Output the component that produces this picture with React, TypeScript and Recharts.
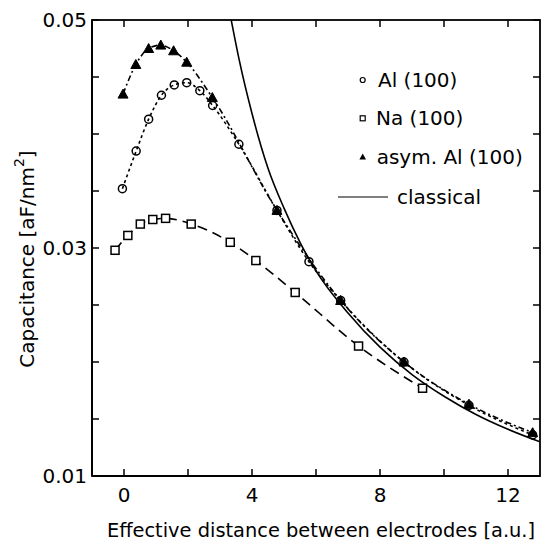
import React from 'react';
import { LineChart, Line, XAxis, YAxis, Legend, Label } from 'recharts';

// ---- data ----
const AL_X = [-0.05, 0.38, 0.77, 1.17, 1.57, 1.96, 2.37, 2.77, 3.59, 4.78, 5.78, 6.77, 8.75, 10.78, 12.77];
const AL_Y = [0.0352, 0.0385, 0.0413, 0.0434, 0.0443, 0.0445, 0.0438, 0.0425, 0.0391, 0.0333, 0.0288, 0.0254, 0.0200, 0.0162, 0.0136];

const NA_X = [-0.28, 0.12, 0.51, 0.9, 1.3, 2.1, 3.32, 4.12, 5.35, 7.33, 9.33];
const NA_Y = [0.0298, 0.0311, 0.0321, 0.0325, 0.0326, 0.0321, 0.0305, 0.0289, 0.0261, 0.0214, 0.0177];

const ASYM_X = [-0.03, 0.37, 0.77, 1.15, 1.55, 1.96, 2.76, 4.78, 6.77, 8.75, 10.78, 12.77];
const ASYM_Y = [0.0435, 0.0461, 0.0475, 0.0478, 0.0473, 0.0463, 0.0432, 0.0333, 0.0254, 0.0200, 0.0163, 0.0138];

const CLASSICAL_X = [3.35, 3.6, 4.0, 4.5, 5.0, 5.5, 6.0, 7.0, 8.0, 9.0, 10.0, 11.0, 12.0, 13.0];
const CLASSICAL_Y = [0.050, 0.0465, 0.0418, 0.0370, 0.0335, 0.0305, 0.0280, 0.0243, 0.0213, 0.0189, 0.0170, 0.0154, 0.0141, 0.0130];

const X_DOMAIN = [-1, 13];
const Y_DOMAIN = [0.01, 0.05];
const X_TICKS = [0, 2, 4, 6, 8, 10, 12];
const X_LABELS = ['0', '', '4', '', '8', '', '12'];
const Y_TICKS = [0.01, 0.015, 0.02, 0.025, 0.03, 0.035, 0.04, 0.045, 0.05];
const Y_LABELS = ['0.01', '', '', '', '0.03', '', '', '', '0.05'];

const LEGEND_LABELS = ['Al (100)', 'Na (100)', 'asym. Al (100)', 'classical'];

const X_LABEL = 'Effective distance between electrodes [a.u.]';

const FONT = '"DejaVu Sans", Verdana, sans-serif';

// layout
const W = 542;
const H = 545;
const MARGIN = { top: 20, right: 2, bottom: 0, left: 0 };
const Y_AXIS_W = 92;
const X_AXIS_H = 69;
const PLOT_LEFT = MARGIN.left + Y_AXIS_W;
const PLOT_RIGHT = W - MARGIN.right;
const PLOT_TOP = MARGIN.top;
const PLOT_BOTTOM = H - MARGIN.bottom - X_AXIS_H;

// same linear mapping as the chart's axes (used only for the frame ticks drawn in the overlay)
const xPix = (v: number) => PLOT_LEFT + ((v - X_DOMAIN[0]) / (X_DOMAIN[1] - X_DOMAIN[0])) * (PLOT_RIGHT - PLOT_LEFT);
const yPix = (v: number) => PLOT_BOTTOM - ((v - Y_DOMAIN[0]) / (Y_DOMAIN[1] - Y_DOMAIN[0])) * (PLOT_BOTTOM - PLOT_TOP);

const pts = (xs: number[], ys: number[]) => xs.map((x, i) => ({ x, y: ys[i] }));
const alData = pts(AL_X, AL_Y);
const naData = pts(NA_X, NA_Y);
const asymData = pts(ASYM_X, ASYM_Y);
const classicalData = pts(CLASSICAL_X, CLASSICAL_Y);

const TICK_LEN = 7;
const FRAME_W = 1.8;

const BottomTick = (p: any) => {
  const i = X_TICKS.indexOf(p.payload.value);
  const label = i >= 0 ? X_LABELS[i] : '';
  return label ? (
    <text x={p.x} y={p.y + 19} textAnchor="middle" dominantBaseline="central" fontFamily={FONT} fontSize={20} fill="#000">
      {label}
    </text>
  ) : (
    <g />
  );
};

const LeftTick = (p: any) => {
  const i = Y_TICKS.findIndex((t) => Math.abs(t - p.payload.value) < 1e-9);
  const label = i >= 0 ? Y_LABELS[i] : '';
  return label ? (
    <text x={p.x - 5} y={p.y} textAnchor="end" dominantBaseline="central" fontFamily={FONT} fontSize={20} fill="#000">
      {label}
    </text>
  ) : (
    <g />
  );
};

const CircleDot = (p: any) =>
  p.cx == null ? null : (
    <circle key={`c${p.index}`} cx={p.cx} cy={p.cy} r={4} fill="none" stroke="#000" strokeWidth={1.5} />
  );

const SquareDot = (p: any) =>
  p.cx == null ? null : (
    <rect key={`s${p.index}`} x={p.cx - 4} y={p.cy - 4} width={8} height={8} fill="#fff" stroke="#000" strokeWidth={1.5} />
  );

const TriangleDot = (p: any) =>
  p.cx == null ? null : (
    <path
      key={`t${p.index}`}
      d={`M${p.cx},${p.cy - 5} L${p.cx + 5},${p.cy + 4} L${p.cx - 5},${p.cy + 4} Z`}
      fill="#000"
      stroke="#000"
      strokeWidth={1}
    />
  );

// overlay: the plot frame with inward ticks on all four sides, and the legend box
const Overlay = () => (
  <svg width={W} height={H} style={{ position: 'absolute', left: 0, top: 0, overflow: 'visible' }}>
    <rect
      x={PLOT_LEFT}
      y={PLOT_TOP}
      width={PLOT_RIGHT - PLOT_LEFT}
      height={PLOT_BOTTOM - PLOT_TOP}
      fill="none"
      stroke="#000"
      strokeWidth={FRAME_W}
    />
    {X_TICKS.map((t) => (
      <g key={`xt${t}`}>
        <line x1={xPix(t)} y1={PLOT_BOTTOM} x2={xPix(t)} y2={PLOT_BOTTOM - TICK_LEN} stroke="#000" strokeWidth={1.5} />
        <line x1={xPix(t)} y1={PLOT_TOP} x2={xPix(t)} y2={PLOT_TOP + TICK_LEN} stroke="#000" strokeWidth={1.5} />
      </g>
    ))}
    {Y_TICKS.map((t) => (
      <g key={`yt${t}`}>
        <line x1={PLOT_LEFT} y1={yPix(t)} x2={PLOT_LEFT + TICK_LEN} y2={yPix(t)} stroke="#000" strokeWidth={1.5} />
        <line x1={PLOT_RIGHT} y1={yPix(t)} x2={PLOT_RIGHT - TICK_LEN} y2={yPix(t)} stroke="#000" strokeWidth={1.5} />
      </g>
    ))}
    <g transform="translate(330,60)">
      <circle cx={32.7} cy={20} r={2.5} fill="none" stroke="#000" strokeWidth={1.2} />
      <text x={48} y={20} dominantBaseline="central" fontFamily={FONT} fontSize={20} fill="#000">{LEGEND_LABELS[0]}</text>
      <rect x={30.2} y={55.8} width={5} height={5} fill="none" stroke="#000" strokeWidth={1.2} />
      <text x={46} y={58.3} dominantBaseline="central" fontFamily={FONT} fontSize={20} fill="#000">{LEGEND_LABELS[1]}</text>
      <path d="M32.7,93.5 L36,99.5 L29.4,99.5 Z" fill="#000" />
      <text x={46.7} y={97} dominantBaseline="central" fontFamily={FONT} fontSize={20} fill="#000">{LEGEND_LABELS[2]}</text>
      <line x1={8} y1={137} x2={58} y2={137} stroke="#000" strokeWidth={1.2} />
      <text x={67} y={137} dominantBaseline="central" fontFamily={FONT} fontSize={20} fill="#000">{LEGEND_LABELS[3]}</text>
    </g>
  </svg>
);

export default function App() {
  return (
    <div style={{ position: 'absolute', left: 0, top: 0, width: W, height: H, background: '#fff', fontFamily: FONT }}>
      <LineChart width={W} height={H} margin={MARGIN}>
        <XAxis
          dataKey="x"
          type="number"
          domain={X_DOMAIN}
          allowDataOverflow
          ticks={X_TICKS}
          interval={0}
          tickSize={0}
          tickMargin={0}
          tickLine={false}
          tick={BottomTick}
          axisLine={{ stroke: '#000', strokeWidth: FRAME_W }}
          height={X_AXIS_H}
        >
          <Label
            content={(props: any) => {
              const vb = props.viewBox || { x: PLOT_LEFT, y: PLOT_BOTTOM, width: PLOT_RIGHT - PLOT_LEFT };
              return (
                <text x={vb.x + vb.width / 2 + 5} y={vb.y + 61} textAnchor="middle" fontFamily={FONT} fontSize={19.4} fill="#000">
                  {X_LABEL}
                </text>
              );
            }}
          />
        </XAxis>
        <YAxis
          type="number"
          domain={Y_DOMAIN}
          allowDataOverflow
          ticks={Y_TICKS}
          interval={0}
          tickSize={0}
          tickMargin={0}
          tickLine={false}
          tick={LeftTick}
          axisLine={{ stroke: '#000', strokeWidth: FRAME_W }}
          width={Y_AXIS_W}
        >
          <Label
            content={() => (
              <text x={27} y={259} transform="rotate(-90 27 259)" textAnchor="middle" dominantBaseline="central" fontFamily={FONT} fontSize={20} fill="#000">
                Capacitance [aF/nm
                <tspan dy={-8} fontSize={14}>2</tspan>
                <tspan dy={8}>]</tspan>
              </text>
            )}
          />
        </YAxis>
        <Line data={classicalData} dataKey="y" type="monotone" stroke="#000" strokeWidth={1.6} dot={false} isAnimationActive={false} />
        <Line data={naData} dataKey="y" type="monotone" stroke="#000" strokeWidth={1.6} strokeDasharray="10 6" dot={SquareDot} isAnimationActive={false} />
        <Line data={asymData} dataKey="y" type="monotone" stroke="#000" strokeWidth={1.6} strokeDasharray="6 3 2 3" dot={TriangleDot} isAnimationActive={false} />
        <Line data={alData} dataKey="y" type="monotone" stroke="#000" strokeWidth={1.6} strokeDasharray="3 3" dot={CircleDot} isAnimationActive={false} />
        <Legend
          layout="horizontal"
          verticalAlign="middle"
          align="center"
          wrapperStyle={{ position: 'absolute', left: 0, top: 0, width: W, height: H, pointerEvents: 'none' }}
          content={() => <Overlay />}
        />
      </LineChart>
    </div>
  );
}
